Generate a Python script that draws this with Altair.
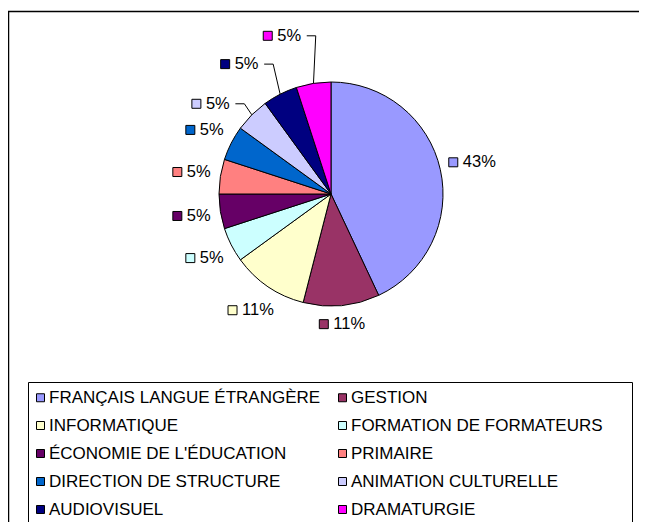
import altair as alt
import pandas as pd

categories = [
    "FRANÇAIS LANGUE ÉTRANGÈRE", "GESTION", "INFORMATIQUE", "FORMATION DE FORMATEURS",
    "ÉCONOMIE DE L'ÉDUCATION", "PRIMAIRE", "DIRECTION DE STRUCTURE",
    "ANIMATION CULTURELLE", "AUDIOVISUEL", "DRAMATURGIE",
]
values = [43, 11, 11, 5, 5, 5, 5, 5, 5, 5]
colors = ["#9999FF", "#993366", "#FFFFCC", "#CCFFFF", "#660066",
          "#FF8080", "#0066CC", "#CCCCFF", "#000080", "#FF00FF"]

df = pd.DataFrame({"cat": categories, "value": values, "idx": list(range(len(values)))})

CX, CY, RAD = 323, 186, 112
FONT = "Liberation Sans"
W, H = 631, 514
scale = alt.Scale(domain=categories, range=colors)

base = alt.Chart(df)

pie = base.mark_arc(outerRadius=RAD, stroke="black", strokeWidth=1).encode(
    theta=alt.Theta("value:Q", stack=True),
    order=alt.Order("idx:O"),
    color=alt.Color("cat:N", scale=scale,
                    legend=alt.Legend(
                        orient="none", legendX=24, legendY=381, columns=2,
                        direction="horizontal",
                        title=None, symbolType="square", symbolSize=64,
                        symbolStrokeColor="black", symbolStrokeWidth=1,
                        labelFont=FONT, labelFontSize=17, labelColor="black",
                        labelLimit=500, labelOffset=0, columnPadding=13,
                        rowPadding=10, padding=0)),
    x=alt.value(CX), y=alt.value(CY),
)

lab = base.transform_window(
    cum="sum(value)", sort=[alt.SortField("idx")], frame=[None, 0]
).transform_joinaggregate(total="sum(value)").transform_calculate(
    label="datum.value + '%'",
    mid="(datum.cum - datum.value/2) / datum.total * 2 * PI",
).transform_calculate(
    deg="datum.mid * 180 / PI",
    textw="9.2 * length(datum.label) + 5.4",
).transform_calculate(
    push="datum.deg > 300 ? 1 : 0",
    hw="(15 + datum.textw) / 2",
).transform_calculate(
    la="datum.mid - datum.push * 8 * PI / 180",
).transform_calculate(
    R=f"{RAD} + 8 + datum.hw * abs(sin(datum.la)) + 8.5 * abs(cos(datum.la)) + datum.push * (datum.deg - 300) * 0.62",
).transform_calculate(
    bx=f"{CX} + datum.R * sin(datum.la)",
    by=f"{CY} - datum.R * cos(datum.la)",
    ex=f"{CX} + {RAD} * sin(datum.mid)",
    ey=f"{CY} - {RAD} * cos(datum.mid)",
).transform_calculate(
    sqx="datum.bx - datum.hw + 4.5",
).transform_calculate(
    tx="datum.sqx + 9.5",
    l1="datum.sqx + 39",
    l2="datum.sqx + 48",
)

X = lambda f: alt.X(f, type="quantitative", scale=None, axis=None)
Y = lambda f: alt.Y(f, type="quantitative", scale=None, axis=None)

squares = lab.mark_square(size=81, stroke="black", strokeWidth=1, opacity=1, filled=True).encode(
    x=X("sqx"), y=Y("by"),
    color=alt.Color("cat:N", scale=scale, legend=None),
)
texts = lab.mark_text(align="left", baseline="middle", font=FONT, fontSize=16.5, color="black").encode(
    x=X("tx"), y=Y("by"), text="label:N",
)
lead1 = lab.transform_filter("datum.push == 1").mark_rule(color="black", strokeWidth=1).encode(
    x=X("l1"), x2="l2:Q", y=Y("by"),
)
lead2 = lab.transform_filter("datum.push == 1").mark_rule(color="black", strokeWidth=1).encode(
    x=X("l2"), x2="ex:Q", y=Y("by"), y2="ey:Q",
)

one = pd.DataFrame({"k": [0]})
frame_left = alt.Chart(one).mark_rule(color="black", strokeWidth=1.5, strokeCap="butt").encode(
    x=alt.value(0.5), y=alt.value(3), y2=alt.value(H))
frame_top = alt.Chart(one).mark_rule(color="black", strokeWidth=1.5, strokeCap="butt").encode(
    x=alt.value(0), x2=alt.value(W), y=alt.value(3.5))
legbox = alt.Chart(one).mark_rect(fill="white", stroke="black", strokeWidth=1).encode(
    x=alt.value(20.5), x2=alt.value(624.5), y=alt.value(374.5), y2=alt.value(H + 20),
)

chart = alt.layer(frame_left, frame_top, legbox, pie, lead1, lead2, squares, texts).properties(
    width=W, height=H, padding=0, autosize=alt.AutoSizeParams(type="none"),
).configure_view(stroke="transparent", strokeWidth=0)

chart.save("out.html", embed_options={"renderer": "svg", "actions": False})
